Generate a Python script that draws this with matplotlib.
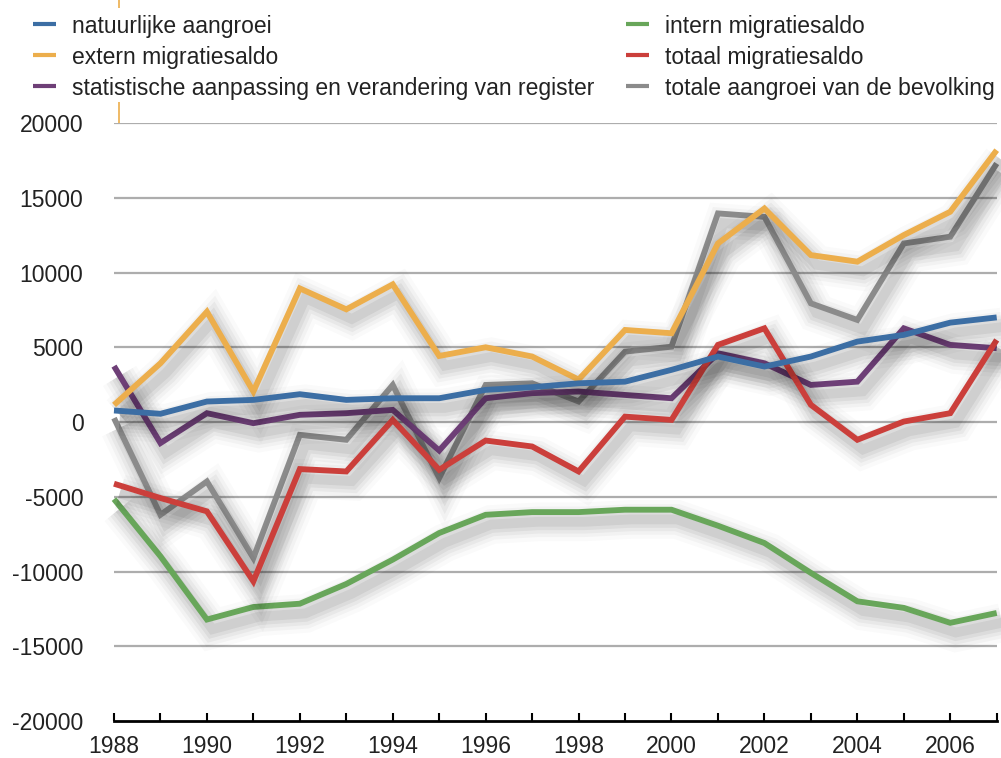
import matplotlib
matplotlib.use("Agg")
import matplotlib.pyplot as plt
import matplotlib.patheffects as pe
from matplotlib.lines import Line2D

plt.rcParams['font.family'] = ['Liberation Sans', 'DejaVu Sans']

years = list(range(1988, 2008))

natuurlijke_aangroei = [780, 560, 1380, 1490, 1870, 1490, 1600, 1600, 2160, 2340,
                        2600, 2710, 3500, 4390, 3720, 4390, 5390, 5840, 6660, 7010]
extern_migratiesaldo = [1150, 3940, 7390, 2050, 8950, 7550, 9220, 4430, 5010, 4390,
                        2850, 6170, 5950, 11960, 14300, 11180, 10740, 12520, 14080, 18200]
statistische_aanpassing = [3750, -1400, 600, -70, 490, 600, 820, -1900, 1600, 1940,
                           2050, 1820, 1600, 4610, 3940, 2490, 2710, 6280, 5170, 4950]
intern_migratiesaldo = [-5150, -8980, -13210, -12370, -12150, -10830, -9200, -7420, -6200, -6020,
                        -6020, -5860, -5860, -6930, -8090, -10090, -11990, -12430, -13430, -12770]
totaal_migratiesaldo = [-4120, -5080, -5970, -10650, -3140, -3300, 150, -3190, -1230, -1630,
                        -3300, 370, 150, 5170, 6280, 1160, -1180, 40, 600, 5500]
totale_aangroei = [270, -6200, -3970, -9090, -850, -1180, 2490, -3740, 2490, 2600,
                   1380, 4720, 5050, 13970, 13740, 7950, 6840, 11960, 12410, 17310]

labels = ["natuurlijke aangroei", "extern migratiesaldo",
          "statistische aanpassing en verandering van register",
          "intern migratiesaldo", "totaal migratiesaldo",
          "totale aangroei van de bevolking"]
series = [natuurlijke_aangroei, extern_migratiesaldo, statistische_aanpassing,
          intern_migratiesaldo, totaal_migratiesaldo, totale_aangroei]
colors = ["#3c6ea4", "#ecae4c", "#6e3f77", "#68a65a", "#cb3f3b", "#8b8b8b"]
draw_order = [3, 5, 2, 4, 1, 0]

yticks = list(range(-20000, 20001, 5000))
xtick_labels = list(range(1988, 2007, 2))

W, H = 1001, 758
fig = plt.figure(figsize=(W / 100, H / 100), dpi=100)
ax = fig.add_axes([114 / W, 1 - 721 / H, (996.7 - 114) / W, (721 - 123.3) / H])

ax.set_xlim(1988, 2007)
ax.set_ylim(-20000, 20000)

for yv in yticks[1:]:
    ax.axhline(yv, color="#adadad", lw=1.6, zorder=1)

shadow = []
for w, a in [(28, 0.02), (22, 0.03), (17, 0.04), (12, 0.05), (7, 0.06)]:
    shadow.append(pe.SimpleLineShadow(offset=(4, -7), shadow_color='black',
                                      alpha=a, rho=0.0, linewidth=w))
shadow.append(pe.Normal())

for z, i in enumerate(draw_order):
    ax.plot(years, series[i], color=colors[i], lw=4.2, zorder=3 + z,
            solid_joinstyle='miter', solid_capstyle='butt', clip_on=False,
            path_effects=shadow)

for s in ['top', 'right', 'left']:
    ax.spines[s].set_visible(False)
ax.spines['bottom'].set_color('black')
ax.spines['bottom'].set_linewidth(2.0)
ax.spines['bottom'].set_zorder(20)

ax.set_yticks(yticks)
ax.set_yticklabels([str(v) for v in yticks])
ax.tick_params(axis='y', length=0, pad=22, labelsize=16.5, colors='#222222')
ax.set_xticks(years)
ax.set_xticklabels([str(y) if y in xtick_labels else "" for y in years])
ax.tick_params(axis='x', direction='in', length=6, width=1.5, color='black',
               pad=10, labelsize=16.5, colors='#222222')
for t in ax.get_xticklines():
    t.set_color('black')

# small orange vertical mark, partly hidden behind the legend
fig.add_artist(Line2D([119 / W, 119 / W], [1 - 123 / H, 1.0], color="#ecae4c", lw=1.2, zorder=0))
fig.patches.append(plt.Rectangle((20 / W, 1 - 102 / H), 980 / W, 94 / H,
                                 transform=fig.transFigure, facecolor='white',
                                 edgecolor='none', zorder=1))

# legend drawn manually
rows_y = [24, 55, 86]
col_x = [(33, 56, 72), (626, 649, 665)]
for k in range(6):
    c = k // 3
    r = k % 3
    hx0, hx1, tx = col_x[c]
    yy = 1 - rows_y[r] / H
    fig.add_artist(Line2D([hx0 / W, hx1 / W], [yy, yy], color=colors[k], lw=3.0,
                          solid_capstyle='butt', zorder=5))
    fig.text(tx / W, 1 - (rows_y[r] + 9) / H, labels[k], fontsize=16.5, va='baseline',
             ha='left', color='#222222', zorder=5)

fig.savefig("out.png", dpi=100, facecolor='white')
